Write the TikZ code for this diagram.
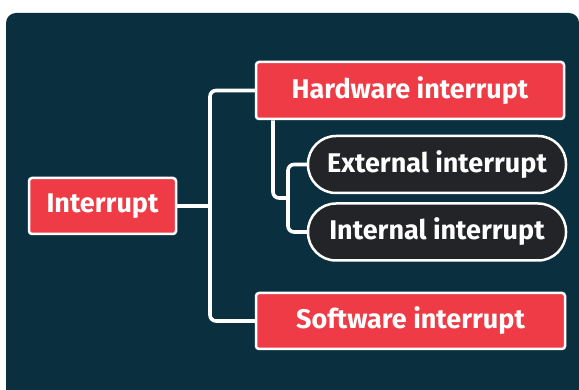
\documentclass[tikz,border=0pt]{standalone}
\usepackage{fontspec}
\setmainfont{Fira Sans}
\definecolor{bgdark}{HTML}{0A3040}
\definecolor{redbox}{HTML}{EF3B45}
\definecolor{pillbox}{HTML}{232427}
\tikzset{
  redstyle/.style={draw=white, line width=2.5pt, fill=redbox, rounded corners=3pt, inner sep=0pt,
    font=\fontsize{27}{30}\selectfont\bfseries, text=white},
  pillstyle/.style={draw=white, line width=2.5pt, fill=pillbox, rounded corners=28pt, inner sep=0pt,
    font=\fontsize{27}{30}\selectfont\bfseries, text=white},
  wire/.style={draw=white, line width=3.6pt, rounded corners=6pt}
}
\begin{document}
\begin{tikzpicture}[x=1pt,y=-1pt]
\useasboundingbox (0,0) rectangle (579,390);
\fill[white] (0,0) rectangle (579,390);
\fill[bgdark, rounded corners=10pt] (6,13) rectangle (579,400);
\coordinate (j1) at (210,206);
\coordinate (h2) at (273,120.5);
\coordinate (j2) at (288,198);
\node[redstyle, minimum width=147pt, minimum height=56pt] (int) at (102.5,206) {Interrupt};
\node[redstyle, minimum width=308pt, minimum height=57pt] (hw) at (410,90.5) {Hardware interrupt};
\node[redstyle, minimum width=309pt, minimum height=56pt] (sw) at (410.5,321) {Software interrupt};
\node[pillstyle, minimum width=258pt, minimum height=57pt] (ext) at (437,164.5) {External interrupt};
\node[pillstyle, minimum width=258pt, minimum height=57pt] (intl) at (437,232) {Internal interrupt};
\draw[wire] (hw.west) -| (j1) |- (sw.west);
\draw[wire] (int.east) -- (j1);
\draw[wire] (h2) |- (j2);
\draw[wire] (ext.west) -| (j2) |- (intl.west);
\end{tikzpicture}
\end{document}
